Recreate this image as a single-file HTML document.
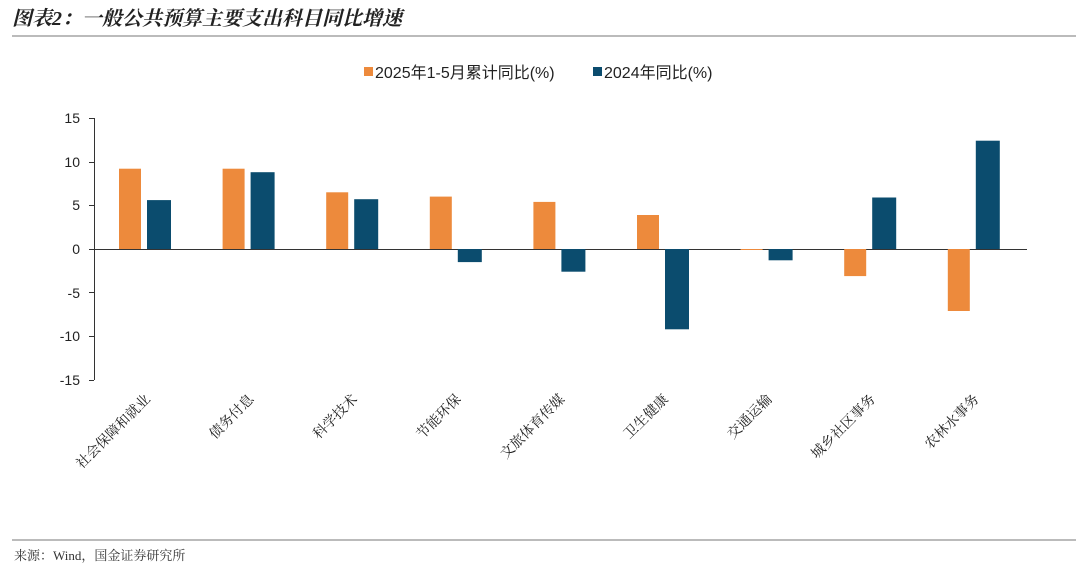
<!DOCTYPE html>
<html><head><meta charset="utf-8"><style>
body{margin:0;background:#fff;width:1080px;height:563px;overflow:hidden}
svg text{font-family:"Liberation Sans","Noto Sans CJK SC",sans-serif}
svg text.serif{font-family:"Liberation Serif","Noto Serif CJK SC",serif}
</style></head><body>
<svg width="1080" height="563" xmlns="http://www.w3.org/2000/svg">
<text class="serif" x="12" y="25" font-size="20" font-style="italic" font-weight="bold" fill="#222">图表2：一般公共预算主要支出科目同比增速</text>
<line x1="12" y1="36" x2="1076" y2="36" stroke="#777" stroke-width="1"/>
<rect x="364" y="67" width="9" height="9" fill="#ED8A3C"/>
<text x="375" y="78" font-size="16" fill="#222">2025年1-5月累计同比(%)</text>
<rect x="593" y="67" width="9" height="9" fill="#0B4C6E"/>
<text x="604" y="78" font-size="16" fill="#222">2024年同比(%)</text>
<g font-size="14" fill="#222" text-anchor="end">
<text x="80" y="123">15</text><text x="80" y="167">10</text><text x="80" y="210">5</text><text x="80" y="254">0</text>
<text x="80" y="298">-5</text><text x="80" y="341">-10</text><text x="80" y="385">-15</text>
</g>
<g stroke="#333" stroke-width="1">
<line x1="94.5" y1="118" x2="94.5" y2="380"/>
<line x1="89" y1="118.5" x2="94" y2="118.5"/><line x1="89" y1="162.5" x2="94" y2="162.5"/><line x1="89" y1="205.5" x2="94" y2="205.5"/><line x1="89" y1="249.5" x2="94" y2="249.5"/><line x1="89" y1="292.5" x2="94" y2="292.5"/><line x1="89" y1="336.5" x2="94" y2="336.5"/><line x1="89" y1="380.5" x2="94" y2="380.5"/>
<line x1="94" y1="249.5" x2="1027" y2="249.5"/>
</g>
<g fill="#ED8A3C">
<rect x="119" y="168.7" width="22" height="80.3"/>
<rect x="222.6" y="168.7" width="22" height="80.3"/>
<rect x="326.2" y="192.3" width="22" height="56.7"/>
<rect x="429.8" y="196.6" width="22" height="52.4"/>
<rect x="533.4" y="201.9" width="22" height="47.1"/>
<rect x="637" y="215" width="22" height="34"/>
<rect x="740.6" y="249" width="22" height="1"/>
<rect x="844.2" y="249" width="22" height="27.1"/>
<rect x="947.8" y="249" width="22" height="62"/>
</g>
<g fill="#0B4C6E">
<rect x="147" y="200.1" width="24" height="48.9"/>
<rect x="250.6" y="172.2" width="24" height="76.8"/>
<rect x="354.2" y="199.2" width="24" height="49.8"/>
<rect x="457.8" y="249" width="24" height="13.1"/>
<rect x="561.4" y="249" width="24" height="22.7"/>
<rect x="665" y="249" width="24" height="80.3"/>
<rect x="768.6" y="249" width="24" height="11.3"/>
<rect x="872.2" y="197.5" width="24" height="51.5"/>
<rect x="975.8" y="140.7" width="24" height="108.3"/>
</g>
<g font-size="14" fill="#222" text-anchor="end">
<text class="serif" transform="translate(151,400) rotate(-45)">社会保障和就业</text>
<text class="serif" transform="translate(254.6,400) rotate(-45)">债务付息</text>
<text class="serif" transform="translate(358.2,400) rotate(-45)">科学技术</text>
<text class="serif" transform="translate(461.8,400) rotate(-45)">节能环保</text>
<text class="serif" transform="translate(565.4,400) rotate(-45)">文旅体育传媒</text>
<text class="serif" transform="translate(669,400) rotate(-45)">卫生健康</text>
<text class="serif" transform="translate(772.6,400) rotate(-45)">交通运输</text>
<text class="serif" transform="translate(876.2,400) rotate(-45)">城乡社区事务</text>
<text class="serif" transform="translate(979.8,400) rotate(-45)">农林水事务</text>
</g>
<line x1="12" y1="540" x2="1076" y2="540" stroke="#777" stroke-width="1"/>
<text class="serif" x="14" y="560" font-size="13" fill="#333">来源：Wind，国金证券研究所</text>
</svg>
</body></html>
